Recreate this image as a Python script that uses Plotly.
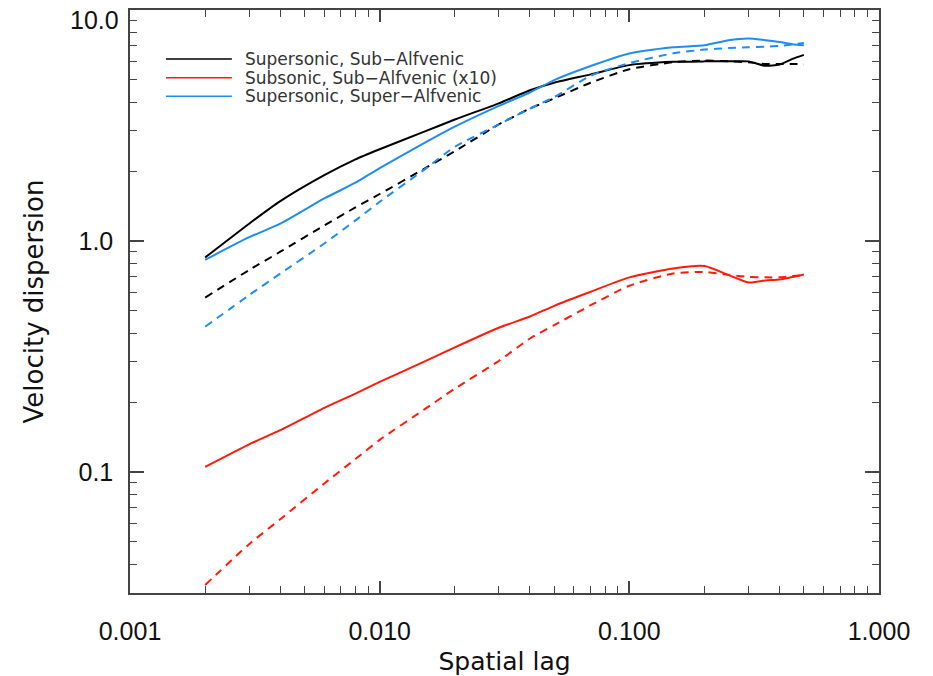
import plotly.graph_objects as go
import numpy as np

# Spatial lag values
lag = [0.002, 0.003, 0.004, 0.006, 0.008, 0.01, 0.015, 0.02, 0.03, 0.04, 0.05,
       0.07, 0.1, 0.15, 0.2, 0.25, 0.3, 0.35, 0.4, 0.45, 0.5]

# Supersonic, Sub-Alfvenic
sup_sub_solid = [0.85, 1.19, 1.49, 1.93, 2.26, 2.50, 2.97, 3.36, 3.95, 4.50, 4.85,
                 5.27, 5.78, 5.97, 6.00, 6.00, 6.00, 5.74, 5.82, 6.15, 6.40]
sup_sub_dash = [0.57, 0.75, 0.90, 1.17, 1.40, 1.60, 2.05, 2.45, 3.20, 3.75, 4.15,
                4.85, 5.55, 5.95, 6.05, 6.00, 5.95, 5.85, 5.85, 5.85, 5.82]

# Subsonic, Sub-Alfvenic (x10)
subs_sub_solid = [0.1054, 0.132, 0.152, 0.190, 0.219, 0.246, 0.300, 0.347, 0.422, 0.472, 0.525,
                  0.604, 0.697, 0.762, 0.780, 0.713, 0.662, 0.676, 0.683, 0.700, 0.718]
subs_sub_dash = [0.0325, 0.0488, 0.0626, 0.0894, 0.114, 0.138, 0.186, 0.230, 0.303, 0.379, 0.433,
                 0.528, 0.641, 0.725, 0.735, 0.715, 0.700, 0.697, 0.697, 0.706, 0.713]

# Supersonic, Super-Alfvenic
sup_sup_solid = [0.83, 1.04, 1.19, 1.53, 1.79, 2.07, 2.65, 3.13, 3.85, 4.40, 4.98,
                 5.73, 6.49, 6.90, 7.05, 7.41, 7.54, 7.41, 7.28, 7.12, 7.05]
sup_sup_dash = [0.426, 0.584, 0.724, 0.977, 1.23, 1.48, 2.03, 2.56, 3.20, 3.75, 4.20,
                5.20, 5.90, 6.50, 6.75, 6.85, 6.90, 6.95, 7.00, 7.10, 7.20]

series_names = ["Supersonic, Sub\u2212Alfvenic", "Subsonic, Sub\u2212Alfvenic (x10)",
                "Supersonic, Super\u2212Alfvenic"]
series_colors = ["#000000", "#ff1a0a", "#1e8cf0"]

x_tick_vals = [0.001, 0.01, 0.1, 1.0]
x_tick_text = ["0.001", "0.010", "0.100", "1.000"]
y_tick_vals = [0.1, 1.0, 10.0]
y_tick_text = ["0.1", "1.0", "10.0"]

# minor tick positions (2..9 in each decade)
x_minor = [m * 10.0 ** e for e in range(-3, 0) for m in range(2, 10)]
y_minor = [m * 10.0 ** e for e in range(-2, 1) for m in range(2, 10)]

solids = [sup_sub_solid, subs_sub_solid, sup_sup_solid]
dashes = [sup_sub_dash, subs_sub_dash, sup_sup_dash]

fig = go.Figure()
for name, col, s, d in zip(series_names, series_colors, solids, dashes):
    fig.add_trace(go.Scatter(x=lag, y=d, mode="lines", showlegend=False,
                             line=dict(color=col, width=2, dash="8px,6px",
                                       shape="spline", smoothing=0.6)))
    fig.add_trace(go.Scatter(x=lag, y=s, mode="lines", name=name, showlegend=False,
                             line=dict(color=col, width=2, shape="spline", smoothing=0.6)))

# manual legend (IDL style) in the upper left
leg_y = [0.916, 0.884, 0.852]
for name, col, yy in zip(series_names, series_colors, leg_y):
    fig.add_shape(type="line", xref="paper", yref="paper",
                  x0=0.048, x1=0.136, y0=yy, y1=yy,
                  line=dict(color=col, width=1.5))
    fig.add_annotation(xref="paper", yref="paper", x=0.152, y=yy, text=name,
                       showarrow=False, xanchor="left", yanchor="middle", borderpad=0,
                       font=dict(family="DejaVu Sans", size=17, color="#333333"))

axis_col = "#444444"
tickfont = dict(family="Liberation Sans Narrow, Liberation Sans", size=25, color="#111111")

# the top label ("10.0") sits at the upper edge; drawn slightly lowered as in the original
fig.add_annotation(xref="paper", yref="y", x=0, y=np.log10(y_tick_vals[-1]),
                   text=y_tick_text[-1], showarrow=False, xanchor="right", yanchor="middle",
                   xshift=-10, yshift=-10, borderpad=0, font=tickfont)

fig.update_xaxes(type="log", range=[-3, 0], tickvals=x_tick_vals, ticktext=x_tick_text,
                 ticks="inside", ticklen=12, tickwidth=1.5, tickcolor=axis_col,
                 showline=True, linecolor=axis_col, linewidth=1.5, mirror="ticks",
                 showgrid=False, zeroline=False, tickfont=tickfont, ticklabelstandoff=15,
                 automargin=False,
                 minor=dict(ticks="inside", ticklen=7, tickwidth=1.2, tickcolor=axis_col,
                            showgrid=False, tickvals=x_minor),
                 title=dict(text="Spatial lag", standoff=20,
                            font=dict(family="DejaVu Sans", size=25, color="#111111")))
fig.update_yaxes(type="log", range=[np.log10(0.03), 1.0005], tickvals=y_tick_vals[:-1],
                 ticktext=y_tick_text[:-1], automargin=False,
                 ticks="inside", ticklen=14, tickwidth=1.5, tickcolor=axis_col,
                 showline=True, linecolor=axis_col, linewidth=1.5, mirror="ticks",
                 showgrid=False, zeroline=False, tickfont=tickfont, ticklabelstandoff=10,
                 minor=dict(ticks="inside", ticklen=7, tickwidth=1.2, tickcolor=axis_col,
                            showgrid=False, tickvals=y_minor),
                 title=dict(text="Velocity dispersion", standoff=27,
                            font=dict(family="DejaVu Sans", size=26, color="#111111")))

fig.update_layout(width=933, height=676, plot_bgcolor="white", paper_bgcolor="white",
                  margin=dict(l=130, r=54, t=10, b=83), showlegend=False)

fig.write_html("out.html")
